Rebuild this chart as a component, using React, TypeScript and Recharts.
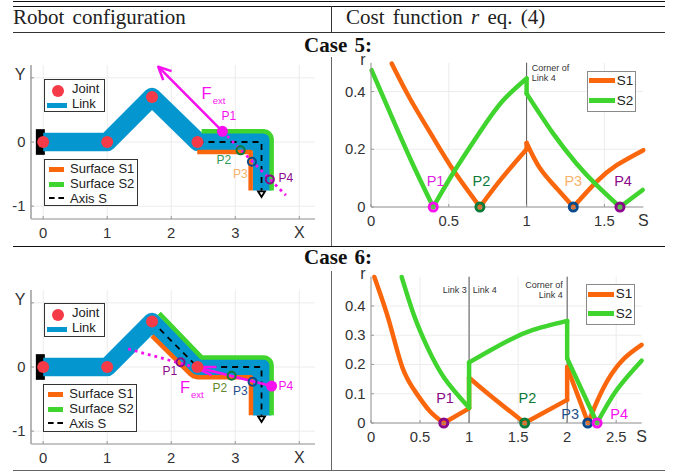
import React from "react";
import { ComposedChart, Line, XAxis, YAxis, CartesianGrid, ReferenceLine, ReferenceDot } from "recharts";

type P = { x: number; y: number };
const pts = (a: number[][]): P[] => a.map(([x, y]) => ({ x, y }));

// ---- Robot geometry (world coordinates)
const robotXTicks = [0, 1, 2, 3, 4];
const robotYTicks = [-1, 0, 1];
const baseLine = pts([[-0.044, 0.2], [-0.044, -0.2]]);
const linkPath = pts([[0, 0], [1, 0], [1.7, 0.7], [2.42, 0], [3.42, 0], [3.42, -0.755]]);
const jointsCase5 = pts([[0, 0], [1, 0], [1.7, 0.7], [2.41, 0]]);
const jointsCase6 = pts([[0, 0], [1, 0], [1.7, 0.708], [2.41, 0]]);
const axisS5 = pts([[2.41, 0], [3.41, 0], [3.41, -0.76]]);
const axisS6 = pts([[1.7, 0.71], [2.41, 0], [3.41, 0], [3.41, -0.76]]);
const axisEnd = pts([[3.41, -0.81]]);

const surfaceS1Case5 = pts([[2.406, -0.156], [3.24, -0.156], [3.24, -0.755]]);
const surfaceS2Case5 = pts([[2.474, 0.167], [3.443, 0.167], [3.491, 0.157], [3.531, 0.13], [3.558, 0.09], [3.568, 0.042], [3.568, -0.755]]);
const surfaceS1Case6 = pts([[1.7, 0.484], [2.3, -0.11], [2.35, -0.145], [2.42, -0.161], [3.245, -0.161], [3.245, -0.75]]);
const surfaceS2Case6 = pts([[1.813, 0.838], [2.474, 0.15], [3.443, 0.15], [3.491, 0.14], [3.531, 0.113], [3.558, 0.073], [3.568, 0.025], [3.568, -0.75]]);

const forceSolid5 = pts([[2.8, 0.167], [1.82, 1.15]]);
const forceHead5 = pts([[2.005, 1.104], [1.797, 1.172], [1.875, 0.964]]);
const forceDots5 = pts([[2.8, 0.167], [3.79, -0.83]]);
const forceSolid6 = pts([[3.568, -0.297], [2.38, 0]]);
const forceHead6 = pts([[2.708, 0], [2.354, 0], [2.63, -0.125]]);
const forceDots6 = pts([[1.328, 0.281], [2.354, 0]]);

// ---- Cost function curves
const c5XTicks = [0, 0.5, 1, 1.5, 1.75];
const c5YTicks = [0, 0.2, 0.4, 0.5];
const c5S1 = pts([[0.133, 0.497], [0.25, 0.376], [0.39, 0.249], [0.529, 0.128], [0.7, 0], [0.84, 0.099], [1, 0.2], [1, 0.222], [1.086, 0.134], [1.193, 0.065], [1.3, 0], [1.45, 0.088], [1.579, 0.145], [1.75, 0.197]]);
const c5S2 = pts([[0.004, 0.474], [0.133, 0.313], [0.261, 0.157], [0.4, 0], [0.54, 0.128], [0.7, 0.26], [0.84, 0.364], [1, 0.445], [1, 0.393], [1.17, 0.255], [1.32, 0.151], [1.45, 0.076], [1.6, 0], [1.746, 0.059]]);
const c6XTicks = [0, 0.5, 1, 1.5, 2, 2.5, 2.76];
const c6YTicks = [0, 0.1, 0.2, 0.3, 0.4, 0.5];
const c6S1 = pts([[0.034, 0.499], [0.187, 0.345], [0.32, 0.19], [0.46, 0.103], [0.6, 0.04], [0.742, 0], [1, 0.05], [1, 0.155], [1.209, 0.096], [1.567, 0], [2, 0.079], [2, 0.191], [2.214, 0], [2.3, 0.07], [2.42, 0.15], [2.58, 0.22], [2.759, 0.267]]);
const c6S2 = pts([[0.313, 0.499], [0.443, 0.364], [0.579, 0.256], [0.749, 0.153], [1, 0.052], [1, 0.207], [1.209, 0.247], [1.413, 0.284], [1.652, 0.318], [2, 0.349], [2, 0.221], [2.305, 0], [2.503, 0.112], [2.759, 0.213]]);

// A series is drawn branch by branch: it breaks at jumps and at its cusps.
const branches = (s: P[]): P[][] => {
  const out: P[][] = [[s[0]]];
  for (let i = 1; i < s.length; i++) {
    const prev = s[i - 1], cur = s[i], next = s[i + 1];
    if (cur.x === prev.x) {
      out.push([prev, cur]);
      out.push([cur]);
      continue;
    }
    out[out.length - 1].push(cur);
    if (next && next.x !== cur.x && (next.y - cur.y) * (cur.y - prev.y) < 0) out.push([cur]);
  }
  return out.filter((b) => b.length > 1);
};

// ---- Markers and labels (data coordinates)
const rings5 = [{ x: 2.8, y: 0.167, c: "#f70ff0", filled: true }, { x: 3.083, y: -0.13, c: "#0d7a3a" }, { x: 3.26, y: -0.307, c: "#0a4a8c" }, { x: 3.54, y: -0.583, c: "#8a0a8a" }];
const rings6 = [{ x: 2.146, y: 0.073, c: "#8a0a8a" }, { x: 2.943, y: -0.135, c: "#0d7a3a" }, { x: 3.27, y: -0.229, c: "#0a4a8c" }, { x: 3.568, y: -0.297, c: "#f70ff0", filled: true }];
const labels5 = [{ x: 2.9, y: 0.39, t: "P1", c: "#f70ff0" }, { x: 2.82, y: -0.3, t: "P2", c: "#2e9a55" }, { x: 3.08, y: -0.505, t: "P3", c: "#f9b26a" }, { x: 3.79, y: -0.573, t: "P4", c: "#8a0a8a" }];
const labels6 = [{ x: 1.98, y: -0.083, t: "P1", c: "#8a0a8a" }, { x: 2.76, y: -0.333, t: "P2", c: "#5f8a2a" }, { x: 3.08, y: -0.385, t: "P3", c: "#1f4e8c" }, { x: 3.79, y: -0.307, t: "P4", c: "#f70ff0" }];
const fext5 = [{ x: 2.474, y: 0.677 }];
const fext6 = [{ x: 2.135, y: -0.4 }];
const rings5Cost = [{ x: 0.4, c: "#f70ff0" }, { x: 0.7, c: "#0d7a3a" }, { x: 1.3, c: "#0a4a8c" }, { x: 1.6, c: "#8a0a8a" }];
const labels5Cost = [{ x: 0.415, y: 0.0875, t: "P1", c: "#e01fe0" }, { x: 0.71, y: 0.0875, t: "P2", c: "#0d7a3a" }, { x: 1.3, y: 0.0875, t: "P3", c: "#f9b26a" }, { x: 1.62, y: 0.0875, t: "P4", c: "#8a0a8a" }];
const rings6Cost = [{ x: 2.21, c: "#0a4a8c" }, { x: 0.742, c: "#8a0a8a" }, { x: 1.567, c: "#0d7a3a" }, { x: 2.305, c: "#f70ff0" }];
const labels6Cost = [{ x: 0.755, y: 0.082, t: "P1", c: "#8a0a8a" }, { x: 1.595, y: 0.082, t: "P2", c: "#0d7a3a" }, { x: 2.03, y: 0.028, t: "P3", c: "#1f4e8c" }, { x: 2.53, y: 0.028, t: "P4", c: "#f70ff0" }];

const headerLeft = "Robot configuration";
const case5Title = "Case 5:";
const case6Title = "Case 6:";
const joint = "Joint", link = "Link", surf1 = "Surface S1", surf2 = "Surface S2", axisLabel = "Axis S";

const BLUE = "#0497cf", ORANGE = "#fa660c", GREEN = "#3fd52e", RED = "#f53b47", MAG = "#f70ff0";
const SANS = "'Liberation Sans', Arial, sans-serif";
const SERIF = "'Liberation Serif', 'Times New Roman', serif";

const abs = (left: number, top: number, extra: React.CSSProperties = {}): React.CSSProperties => ({ position: "absolute", left, top, ...extra });

const lineProps = { isAnimationActive: false, dot: false, activeDot: false, legendType: "none" as const, strokeLinejoin: "round" as const };

const xTick = (last: number, name: string, mark: boolean) => (p: any) => {
  const v = p.payload.value;
  const isLast = v === last;
  return (
    <g>
      {(mark || !isLast) && <line x1={p.x} x2={p.x} y1={p.y} y2={p.y - 3} stroke="#999" />}
      <text x={p.x} y={p.y + 18.5} textAnchor="middle" fontFamily={SANS} fontSize={isLast ? 16 : 14.8} fill="#333">{isLast ? name : String(v)}</text>
    </g>
  );
};
const yTick = (last: number, name: string, mark: boolean) => (p: any) => {
  const v = p.payload.value;
  const isLast = v === last;
  return (
    <g>
      {(mark || !isLast) && <line x1={p.x} x2={p.x + 3} y1={p.y} y2={p.y} stroke="#999" />}
      <text x={p.x - 5.5} y={p.y + (isLast ? 2 : 5)} textAnchor="end" fontFamily={SANS} fontSize={isLast ? 16 : 14.8} fill="#333">{isLast ? name : String(v)}</text>
    </g>
  );
};

function markerLine(d: any, i: number, key: string) {
  return (
    <Line key={key + i} {...lineProps} data={[d]} dataKey="y" stroke="none"
      dot={{ r: d.filled ? 5.5 : 4, fill: d.filled ? d.c : "none", stroke: d.c, strokeWidth: d.filled ? 0 : 2 }} />
  );
}

function textDot(l: any, i: number, key: string, size: number) {
  return (
    <ReferenceDot key={key + i} x={l.x} y={l.y} r={0}
      shape={(p: any) => <text x={p.cx} y={p.cy} textAnchor="middle" dominantBaseline="middle" fontSize={size} fontFamily={SANS} fill={l.c}>{l.t}</text>} />
  );
}

function fextDot(f: P) {
  return (
    <ReferenceDot x={f.x} y={f.y} r={0}
      shape={(p: any) => (
        <text x={p.cx} y={p.cy} fontFamily={SANS} fill={MAG}>
          <tspan fontSize={16.5}>F</tspan>
          <tspan fontSize={9.5} dy={5} dx={1}>ext</tspan>
        </text>
      )} />
  );
}

function Triangle(props: any) {
  const { cx, cy } = props;
  if (cx == null) return null;
  return <path d={`M${cx - 3.5} ${cy - 2.7}L${cx + 3.5} ${cy - 2.7}L${cx} ${cy + 3}Z`} fill="#fff" stroke="#000" strokeWidth={1.8} />;
}

function Robot({ top, surfS1, surfS2, axisS, joints, force, head, dots, rings, labels, fext }: any) {
  return (
    <div style={abs(0, top)}>
      <ComposedChart width={340} height={250} margin={{ top: 65, right: 25, left: 0, bottom: 0 }}>
        <CartesianGrid stroke="#ececec" strokeWidth={1} horizontalValues={[-1, 0, 1]} verticalValues={[0, 1, 2, 3, 4]} />
        <XAxis type="number" dataKey="x" domain={[-0.19, 4.245]} ticks={robotXTicks} interval={0} height={31}
          tick={xTick(4, "X", true)} tickLine={false} tickSize={0} tickMargin={0}
          axisLine={{ stroke: "#8c8c8c", strokeWidth: 1 }} />
        <YAxis type="number" dataKey="y" domain={[-1.2, 1.2]} ticks={robotYTicks} interval={0} width={31}
          tick={yTick(1, "Y", true)} tickLine={false} tickSize={0} tickMargin={0}
          axisLine={{ stroke: "#b5b5b5", strokeWidth: 2 }} />
        <Line {...lineProps} data={baseLine} dataKey="y" stroke="#000" strokeWidth={9} />
        <Line {...lineProps} data={linkPath} dataKey="y" stroke={BLUE} strokeWidth={18.5} />
        <Line {...lineProps} data={surfS1} dataKey="y" stroke={ORANGE} strokeWidth={4.5} />
        <Line {...lineProps} data={surfS2} dataKey="y" stroke={GREEN} strokeWidth={4.5} />
        <Line {...lineProps} data={joints} dataKey="y" stroke="none" dot={{ r: 6, fill: RED, stroke: "none" }} />
        <Line {...lineProps} data={axisS} dataKey="y" stroke="#000" strokeWidth={1.8} strokeDasharray="6 5" />
        <Line {...lineProps} data={axisEnd} dataKey="y" stroke="none" dot={(p: any) => <Triangle key="tri" {...p} />} />
        <Line {...lineProps} data={dots} dataKey="y" stroke={MAG} strokeWidth={2.8} strokeDasharray="2.8 4" />
        <Line {...lineProps} data={force} dataKey="y" stroke={MAG} strokeWidth={2.5} />
        <Line {...lineProps} data={head} dataKey="y" stroke={MAG} strokeWidth={2.5} />
        {rings.map((r: any, i: number) => markerLine(r, i, "ring"))}
        {labels.map((l: any, i: number) => textDot(l, i, "lab", 12))}
        {fextDot(fext[0])}
      </ComposedChart>
    </div>
  );
}

function Cost({ top, h, marginTop, bottom, xMax, xTicks, yTicks, grid, refs, s1, s2, rings, labels, sLast }: any) {
  return (
    <div style={abs(340, top)}>
      <ComposedChart width={341} height={h} margin={{ top: marginTop, right: 341 - xMax, left: 0, bottom: 0 }}>
        <CartesianGrid stroke="#ececec" strokeWidth={1} horizontalValues={grid.h} verticalValues={grid.v} />
        <XAxis type="number" dataKey="x" domain={[0, sLast]} ticks={xTicks} interval={0} height={bottom}
          tick={xTick(sLast, "S", false)} tickLine={false} tickSize={0} tickMargin={0}
          axisLine={{ stroke: "#8c8c8c", strokeWidth: 1 }} />
        <YAxis type="number" dataKey="y" domain={[0, 0.5]} ticks={yTicks} interval={0} width={31}
          tick={yTick(0.5, "r", false)} tickLine={false} tickSize={0} tickMargin={0}
          axisLine={{ stroke: "#8c8c8c", strokeWidth: 1 }} />
        {refs.map((x: number) => <ReferenceLine key={x} x={x} stroke="#555" strokeWidth={1} />)}
        {branches(s1).map((b, i) => (
          <Line key={"a" + i} {...lineProps} type="natural" strokeLinecap="round" data={b} dataKey="y" stroke={ORANGE} strokeWidth={4.5} />
        ))}
        {branches(s2).map((b, i) => (
          <Line key={"b" + i} {...lineProps} type="natural" strokeLinecap="round" data={b} dataKey="y" stroke={GREEN} strokeWidth={4.5} />
        ))}
        {rings.map((r: any, i: number) => (
          <Line key={"cr" + i} {...lineProps} data={[{ x: r.x, y: 0 }]} dataKey="y" stroke="none"
            dot={{ r: 4, fill: "none", stroke: r.c, strokeWidth: 3 }} />
        ))}
        {labels.map((l: any, i: number) => textDot(l, i, "cl", 14.5))}
      </ComposedChart>
    </div>
  );
}

function Box({ left, top, w, h, color = "#333", children }: any) {
  return <div style={abs(left, top, { width: w, height: h, boxSizing: "border-box", border: `1px solid ${color}`, background: "#fff" })}>{children}</div>;
}

const legText = (left: number, top: number, t: string, size = 13): React.ReactNode => (
  <div style={abs(left, top, { fontFamily: SANS, fontSize: size, lineHeight: "14px", color: "#222", whiteSpace: "nowrap" })}>{t}</div>
);

function JointLegend({ top }: { top: number }) {
  return (
    <Box left={44} top={top} w={61} h={33.5}>
      <div style={abs(7, 5, { width: 12, height: 12, borderRadius: 6, background: RED })} />
      {legText(27, 2, joint)}
      <div style={abs(2, 23, { width: 20, height: 5, background: BLUE })} />
      {legText(27, 17, link)}
    </Box>
  );
}

function SurfaceLegend({ left, top }: { left: number; top: number }) {
  return (
    <Box left={left} top={top} w={94} h={47.5}>
      <div style={abs(4, 7, { width: 15, height: 5, background: ORANGE })} />
      {legText(25, 2, surf1)}
      <div style={abs(4, 22, { width: 15, height: 5, background: GREEN })} />
      {legText(25, 17, surf2)}
      <div style={abs(4, 37, { width: 15, borderTop: "2px dashed #000" })} />
      {legText(25, 32, axisLabel)}
    </Box>
  );
}

function CostLegend({ left, top, gap }: { left: number; top: number; gap: number }) {
  return (
    <Box left={left} top={top} w={49.5} h={41} color="#8a8a8a">
      <div style={abs(1.6, 6.5, { width: 25.7, height: 5, background: ORANGE })} />
      {legText(29, 2, "S1", 13.5)}
      <div style={abs(1.6, 6.5 + gap, { width: 25.7, height: 5, background: GREEN })} />
      {legText(29, 2 + gap, "S2", 13.5)}
    </Box>
  );
}

const rule = (left: number, top: number, w: number, h: number, c = "#111"): React.ReactNode => (
  <div style={abs(left, top, { width: w, height: h, background: c })} />
);
const small = (left: number, top: number, t: string, right = false): React.ReactNode => (
  <div style={{ position: "absolute", top, fontFamily: SANS, fontSize: 9, lineHeight: "9px", color: "#333", whiteSpace: "nowrap", ...(right ? { right: 681 - left } : { left }) }}>{t}</div>
);

export default function App() {
  return (
    <div style={{ position: "absolute", left: 0, top: 0, width: 681, height: 474, background: "#fff", overflow: "hidden" }}>
      <Robot top={0} surfS1={surfaceS1Case5} surfS2={surfaceS2Case5} axisS={axisS5} joints={jointsCase5}
        force={forceSolid5} head={forceHead5} dots={forceDots5} rings={rings5} labels={labels5} fext={fext5} />
      <Robot top={225.3} surfS1={surfaceS1Case6} surfS2={surfaceS2Case6} axisS={axisS6} joints={jointsCase6}
        force={forceSolid6} head={forceHead6} dots={forceDots6} rings={rings6} labels={labels6} fext={fext6} />
      <Cost top={0} h={240} marginTop={62.7} bottom={33} xMax={303.3} sLast={1.75} xTicks={c5XTicks} yTicks={c5YTicks}
        grid={{ h: [0.2, 0.4], v: [0.5, 1, 1.5] }} refs={[1]} s1={c5S1} s2={c5S2} rings={rings5Cost} labels={labels5Cost} />
      <Cost top={240} h={234} marginTop={36.7} bottom={51} xMax={301.7} sLast={2.76} xTicks={c6XTicks} yTicks={c6YTicks}
        grid={{ h: [0.1, 0.2, 0.3, 0.4], v: [0.5, 1, 1.5, 2, 2.5] }} refs={[1, 2]} s1={c6S1} s2={c6S2} rings={rings6Cost} labels={labels6Cost} />

      {small(531.7, 63.8, "Corner of")}
      {small(531.7, 73.8, "Link 4")}
      {small(466.7, 286.2, "Link 3", true)}
      {small(472.7, 286.2, "Link 4")}
      {small(562.7, 280.5, "Corner of", true)}
      {small(562.7, 290.5, "Link 4", true)}

      <JointLegend top={78.7} />
      <SurfaceLegend left={44} top={158.5} />
      <JointLegend top={303.3} />
      <SurfaceLegend left={43.3} top={384} />
      <CostLegend left={586.7} top={70.5} gap={20} />
      <CostLegend left={585.7} top={284.3} gap={19.5} />

      {rule(13, 1, 652, 1.2)}
      {rule(13, 6, 652, 0.8)}
      {rule(13, 31.6, 652, 1, "#333")}
      {rule(330.5, 6, 1.2, 26, "#333")}
      {rule(330.5, 57, 1.5, 189, "#666")}
      {rule(13, 246, 652, 0.9)}
      {rule(330.5, 271, 1.5, 200, "#666")}
      {rule(13, 470.3, 652, 1.2, "#666")}

      <div style={abs(13, 4, { fontFamily: SERIF, fontSize: 21, lineHeight: "26px", wordSpacing: 3, color: "#222", whiteSpace: "nowrap" })}>{headerLeft}</div>
      <div style={abs(346, 4, { fontFamily: SERIF, fontSize: 21, lineHeight: "26px", wordSpacing: 3, color: "#222", whiteSpace: "nowrap" })}>
        Cost function <i>r</i> eq. (4)
      </div>
      <div style={abs(0, 34, { width: 676, textAlign: "center", fontFamily: SERIF, fontWeight: 700, fontSize: 21, lineHeight: "22px", wordSpacing: 2, color: "#111" })}>{case5Title}</div>
      <div style={abs(0, 246, { width: 676, textAlign: "center", fontFamily: SERIF, fontWeight: 700, fontSize: 21, lineHeight: "22px", wordSpacing: 2, color: "#111" })}>{case6Title}</div>
    </div>
  );
}
